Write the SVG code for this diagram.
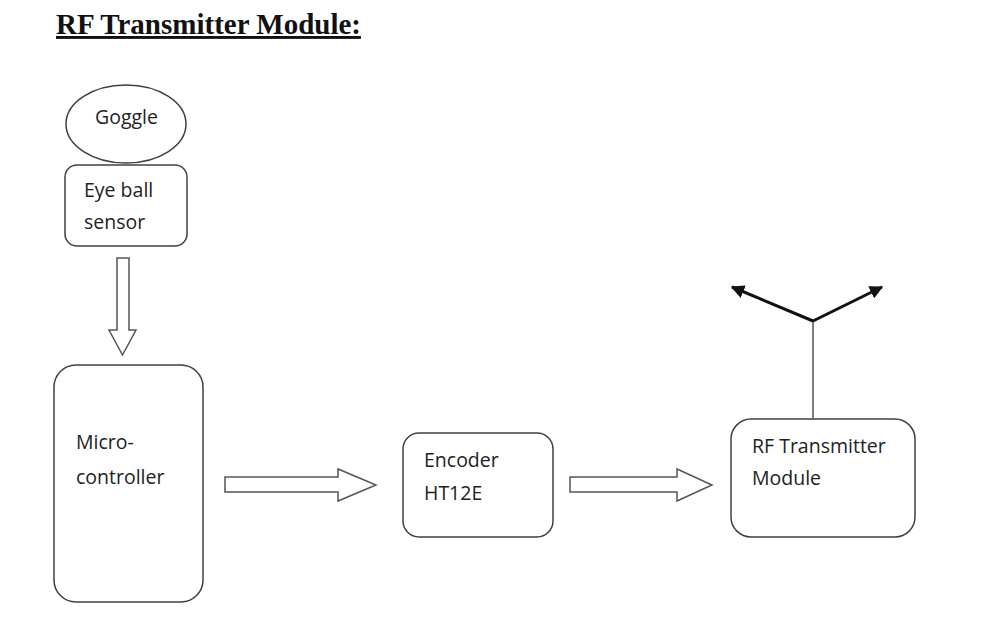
<svg xmlns="http://www.w3.org/2000/svg" width="1000" height="642" viewBox="0 0 1000 642">
<style>
.box{fill:#fff;stroke:#404040;stroke-width:1.5}
.arr{fill:#fff;stroke:#555;stroke-width:1.5;stroke-linejoin:miter}
.lbl{font-family:"Open Sans","Liberation Sans",sans-serif;font-size:19.5px;fill:#222}
.ant{stroke:#111;stroke-width:3;fill:none}
</style>
<defs>
<marker id="ah" viewBox="0 0 10 10" refX="9" refY="5" markerWidth="4.5" markerHeight="4.5" orient="auto" markerUnits="strokeWidth">
<path d="M0,0 L10,5 L0,10 z" fill="#111"/>
</marker>
</defs>
<rect width="1000" height="642" fill="#fff"/>
<text x="56" y="34" font-family="'Liberation Serif',serif" font-weight="bold" font-size="29" fill="#111" text-decoration="underline">RF Transmitter Module:</text>
<g id="goggle">
<ellipse cx="126" cy="124" rx="60" ry="39" class="box"/>
<text x="95" y="124" class="lbl">Goggle</text>
</g>
<g id="sensor">
<rect x="65" y="165" width="122" height="81" rx="12" class="box"/>
<text x="84" y="197" class="lbl">Eye ball</text>
<text x="84" y="229" class="lbl">sensor</text>
</g>
<g id="micro">
<rect x="54" y="365" width="149" height="237" rx="22" class="box"/>
<text x="76" y="449" class="lbl">Micro-</text>
<text x="76" y="484" class="lbl">controller</text>
</g>
<g id="encoder">
<rect x="403" y="433" width="150" height="104" rx="16" class="box"/>
<text x="424" y="467" class="lbl">Encoder</text>
<text x="424" y="500" class="lbl">HT12E</text>
</g>
<g id="rf">
<rect x="731" y="419" width="184" height="118" rx="20" class="box"/>
<text x="752" y="453" class="lbl">RF Transmitter</text>
<text x="752" y="485" class="lbl">Module</text>
</g>
<g id="connectors">
<path class="arr" d="M117,258 H129 V330 H136 L122.5,355 L109,330 H117 Z"/>
<path class="arr" d="M225,477 H338 V469 L376,485 L338,501 V492 H225 Z"/>
<path class="arr" d="M570,477 H677 V469 L712,485 L677,501 V492 H570 Z"/>
<line x1="813" y1="320" x2="813" y2="419" stroke="#555" stroke-width="1.5"/>
<line x1="813" y1="321" x2="732" y2="287" class="ant" marker-end="url(#ah)"/>
<line x1="813" y1="321" x2="882" y2="287" class="ant" marker-end="url(#ah)"/>
</g>
</svg>
